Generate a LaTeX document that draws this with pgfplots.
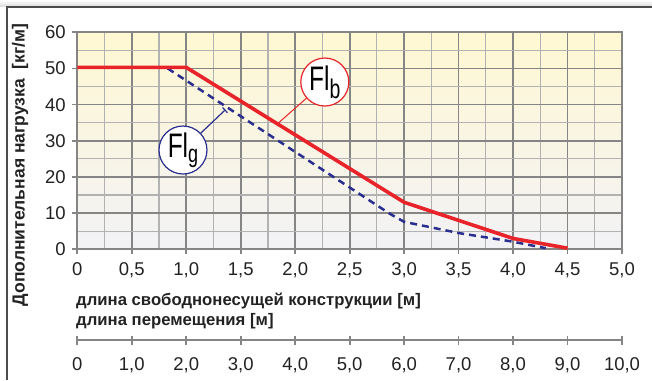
\documentclass[border=0pt]{standalone}
\usepackage{fontspec}
\setmainfont{Liberation Sans}
\usepackage{pgfplots}
\pgfplotsset{compat=1.18}
\usetikzlibrary{arrows.meta}
\definecolor{redl}{HTML}{E8232A}
\definecolor{bluel}{HTML}{2A2F8F}
\definecolor{gridmaj}{HTML}{858585}
\definecolor{gridmin}{HTML}{B2B2B2}
\definecolor{bgtop}{HTML}{FFF8D2}
\definecolor{bgbot}{HTML}{F2F2F6}
\definecolor{txt}{HTML}{222222}
\begin{document}
\begin{tikzpicture}[x=1pt,y=1pt]
\useasboundingbox (0,0) rectangle (652,380);
\shade[top color=white, bottom color=black!15] (0,373) rectangle (652,380);
\draw[line width=1.3pt, black!70] (7,0) -- (7,373) -- (652,373);
\begin{axis}[
  at={(77.3pt,130.7pt)}, anchor=south west, scale only axis,
  width=544.7pt, height=217pt,
  xmin=0, xmax=5, ymin=0, ymax=60,
  xtick={0,0.5,1,1.5,2,2.5,3,3.5,4,4.5,5},
  xticklabels={0,{0,5},{1,0},{1,5},{2,0},{2,5},{3,0},{3,5},{4,0},{4,5},{5,0}},
  ytick={0,10,20,30,40,50,60},
  yticklabels={0,10,20,30,40,50,60},
  minor xtick={0.25,0.75,1.25,1.75,2.25,2.75,3.25,3.75,4.25,4.75},
  minor ytick={5,15,25,35,45,55},
  grid=both,
  major grid style={gridmaj, line width=1.7pt},
  minor grid style={gridmin, line width=1.2pt},
  axis line style={gridmaj, line width=2.2pt},
  tick style={gridmaj, line width=1.7pt},
  major tick length=5pt, minor tick length=0pt,
  tick align=outside, tick pos=left,
  ticklabel style={font=\fontsize{18.5}{20}\selectfont, text=txt},
  xticklabel shift=5pt,
  yticklabel shift=3pt,
  axis background/.style={top color=bgtop, bottom color=bgbot},
]
\addplot[bluel, line width=2.5pt, dash pattern=on 7pt off 5pt] coordinates {(0.83,50) (2.87,9.8) (3.0,7.6) (3.5,4.5) (4.0,2.1) (4.3,0.3)};
\addplot[redl, line width=3.6pt] coordinates {(0,50.3) (1,50.3) (3,13) (4,3) (4.5,0.3)};
\node[circle, draw=redl, line width=1.2pt, fill=white, minimum size=48pt, inner sep=0pt] (fb) at (axis cs:2.272,46.25) {\scalebox{0.72}[1]{\fontsize{34}{34}\selectfont Fl\raisebox{-8pt}{\fontsize{27}{27}\selectfont b}}};
\node[circle, draw=bluel, line width=1.2pt, fill=white, minimum size=48pt, inner sep=0pt] (fg) at (axis cs:0.970,27.45) {\scalebox{0.72}[1]{\fontsize{34}{34}\selectfont Fl\raisebox{-5pt}{\fontsize{25}{25}\selectfont g}}};
\draw[redl, line width=1pt] (fb) -- (axis cs:1.83,34.5);
\draw[bluel, line width=1.2pt, -{Bar[width=7pt,line width=1.2pt]}] (fg) -- (axis cs:1.36,38.6);
\end{axis}
\begin{axis}[
  at={(77.3pt,40pt)}, anchor=south west, scale only axis,
  width=544.7pt, height=20pt,
  xmin=0, xmax=10, ymin=0, ymax=1,
  axis x line*=bottom, axis y line=none,
  xtick={0,1,2,3,4,5,6,7,8,9,10},
  xticklabels={0,{1,0},{2,0},{3,0},{4,0},{5,0},{6,0},{7,0},{8,0},{9,0},{10,0}},
  axis line style={gridmaj, line width=2.2pt},
  tick style={gridmaj, line width=1.7pt},
  major tick length=9pt, tick align=center,
  xticklabel shift=10pt,
  ticklabel style={font=\fontsize{18.5}{20}\selectfont, text=txt},
]
\end{axis}
\node[anchor=base west, text=txt, inner sep=0pt, font=\fontsize{16.7}{18}\selectfont\bfseries] at (76,75) {длина свободнонесущей конструкции [м]};
\node[anchor=base west, text=txt, inner sep=0pt, font=\fontsize{16.7}{18}\selectfont\bfseries] at (76,55) {длина перемещения [м]};
\node[rotate=90, text=txt, inner sep=0pt, font=\fontsize{17.5}{18}\selectfont\bfseries] at (20,215) {Дополнительная нагрузка\ \ [кг/м]};
\end{tikzpicture}
\end{document}
